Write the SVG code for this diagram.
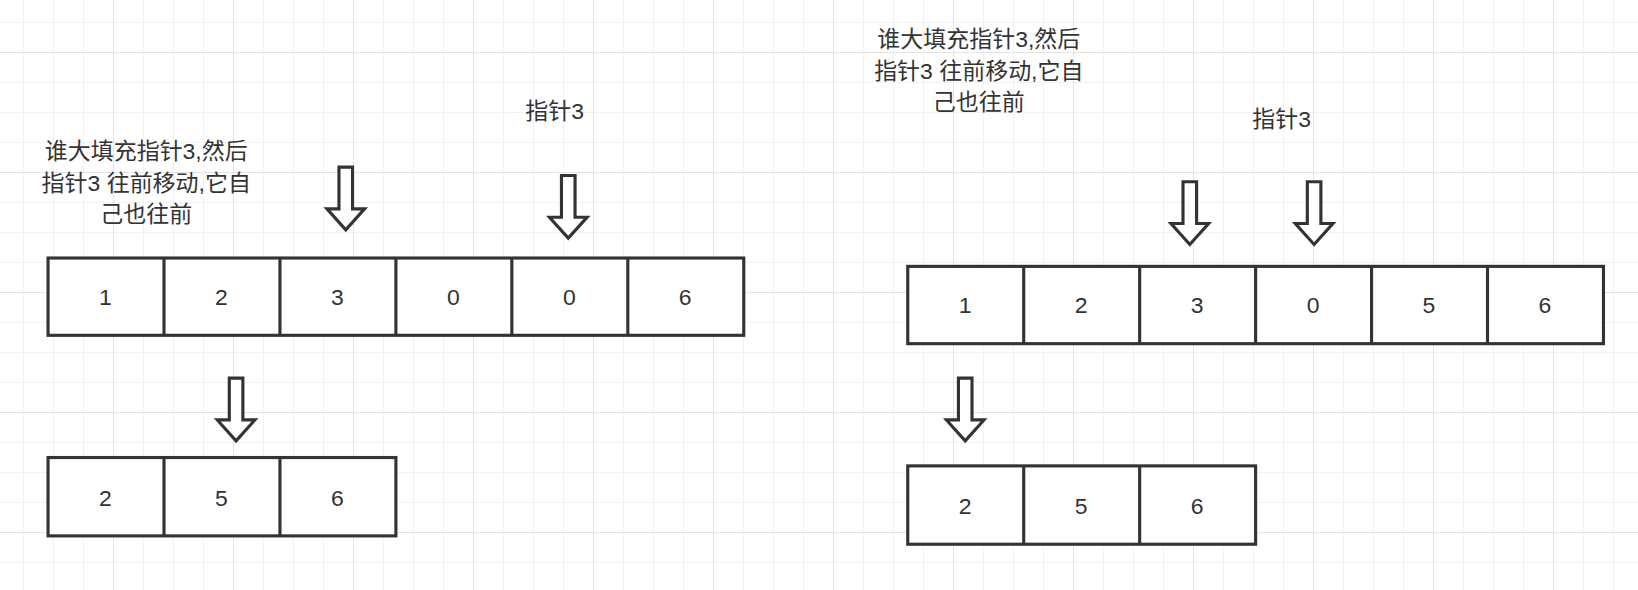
<svg xmlns="http://www.w3.org/2000/svg" width="1638" height="590" viewBox="0 0 1638 590">
<style>
.c{fill:#fff;stroke:#333;stroke-width:3}
.a{fill:#fff;stroke:#333;stroke-width:3;stroke-linejoin:miter}
text{font-family:"Liberation Sans","Noto Sans CJK SC",sans-serif;fill:#333;text-anchor:middle}
.n{font-size:22px}
.t{font-size:22px}
</style>
<defs>
<pattern id="g" width="30" height="30" patternUnits="userSpaceOnUse" x="23" y="22">
<path d="M0 0H30M0 0V30" stroke="#eeeeee" stroke-width="1.5" fill="none"/>
</pattern>
<pattern id="G" width="120" height="120" patternUnits="userSpaceOnUse" x="113" y="52">
<path d="M0 0H120M0 0V120" stroke="#e4e4e4" stroke-width="2" fill="none"/>
</pattern>
<path id="arr" d="M-6.5 0H6.5V40H18L0 60L-18 40H-6.5Z"/>
</defs>
<rect width="1638" height="590" fill="#fff"/>
<rect width="1638" height="590" fill="url(#g)"/>
<rect width="1638" height="590" fill="url(#G)"/>
<g transform="scale(1.0446)">
<g id="labels">
<text class="t" x="140" y="152">谁大填充指针3,然后</text>
<text class="t" x="140" y="183">指针3 往前移动,它自</text>
<text class="t" x="140" y="213">己也往前</text>
<text class="t" x="531" y="114">指针3</text>
<text class="t" x="937" y="45">谁大填充指针3,然后</text>
<text class="t" x="937" y="76">指针3 往前移动,它自</text>
<text class="t" x="937" y="105">己也往前</text>
<text class="t" x="1227" y="122">指针3</text>
</g>
<g id="arrayA">
<rect class="c" x="46" y="247" width="666" height="74"/>
<path d="M157 247V321M268 247V321M379 247V321M490 247V321M601 247V321" stroke="#333" stroke-width="3"/>
<text class="n" x="101" y="292">1</text><text class="n" x="212" y="292">2</text><text class="n" x="323" y="292">3</text><text class="n" x="434" y="292">0</text><text class="n" x="545" y="292">0</text><text class="n" x="656" y="292">6</text>
</g>
<g id="arrayB">
<rect class="c" x="46" y="438" width="333" height="75"/>
<path d="M157 438V513M268 438V513" stroke="#333" stroke-width="3"/>
<text class="n" x="101" y="484">2</text><text class="n" x="212" y="484">5</text><text class="n" x="323" y="484">6</text>
</g>
<g id="arrayC">
<rect class="c" x="869" y="255" width="666" height="74"/>
<path d="M980 255V329M1091 255V329M1202 255V329M1313 255V329M1424 255V329" stroke="#333" stroke-width="3"/>
<text class="n" x="924" y="300">1</text><text class="n" x="1035" y="300">2</text><text class="n" x="1146" y="300">3</text><text class="n" x="1257" y="300">0</text><text class="n" x="1368" y="300">5</text><text class="n" x="1479" y="300">6</text>
</g>
<g id="arrayD">
<rect class="c" x="869" y="446" width="333" height="75"/>
<path d="M980 446V521M1091 446V521" stroke="#333" stroke-width="3"/>
<text class="n" x="924" y="492">2</text><text class="n" x="1035" y="492">5</text><text class="n" x="1146" y="492">6</text>
</g>
<g id="connectors">
<use href="#arr" class="a" transform="translate(331 160)"/>
<use href="#arr" class="a" transform="translate(544 168)"/>
<use href="#arr" class="a" transform="translate(226 362)"/>
<use href="#arr" class="a" transform="translate(1139 174)"/>
<use href="#arr" class="a" transform="translate(1258 174)"/>
<use href="#arr" class="a" transform="translate(924 362)"/>
</g>
</g>
</svg>
